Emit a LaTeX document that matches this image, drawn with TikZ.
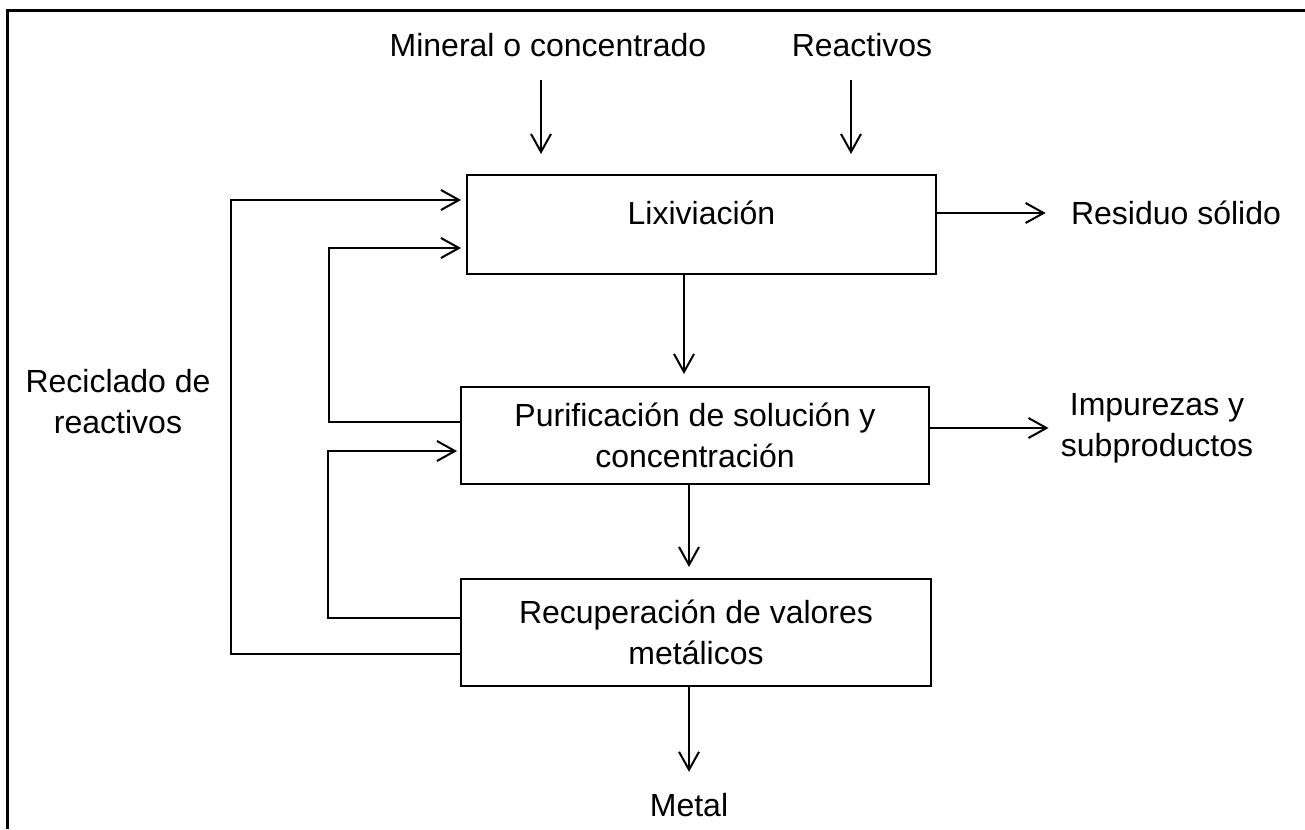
\documentclass[tikz,border=0pt]{standalone}
\usepackage{fontspec}
\setmainfont{Liberation Sans}
\usetikzlibrary{arrows.meta}

\begin{document}
\begin{tikzpicture}[x=0.5pt,y=-0.5pt,
    every node/.style={font=\fontsize{16}{20.5}\selectfont,align=center,inner sep=0pt},
    block/.style={draw,line width=1pt},
    flow/.style={line width=1pt,-{Straight Barb[length=9pt,width=10pt]}},
    link/.style={line width=1pt}]

      \useasboundingbox (0,0) rectangle (1305,829);
      \draw[line width=1.5pt] (7,829) -- (7,11) -- (1305,11);

      \begin{scope}[every node/.append style={block}]
        \node[minimum width=234.5pt,minimum height=49.5pt,text height=6pt,text depth=6pt]
          (lix) at (701.5,224.5) {Lixiviación};
        \node[minimum width=234pt,minimum height=48.5pt]
          (pur) at (695,435.5) {Purificación de solución y\\concentración};
        \node[minimum width=235pt,minimum height=53.5pt]
          (rec) at (696,632.5) {Recuperación de valores\\metálicos};
      \end{scope}

      \node (min) at (548,45) {Mineral o concentrado};
      \node (rea) at (862,45) {Reactivos};
      \node (res) at (1176,213) {Residuo sólido};
      \node (imp) at (1157,428) {Impurezas y\\subproductos};
      \node (recic) at (118,402) {Reciclado de\\reactivos};
      \node (met) at (689,805) {Metal};

      \coordinate (minin) at (541,80);
      \coordinate (reain) at (851,80);
      \coordinate (lixout) at ([xshift=-8.75pt]lix.south);
      \coordinate (purout) at ([xshift=-3pt]pur.south);
      \coordinate (recout) at ([xshift=-3.5pt]rec.south);

      \draw[flow,shorten >=10pt] (minin) -- (minin |- lix.north);
      \draw[flow,shorten >=10pt] (reain) -- (reain |- lix.north);
      \draw[flow,shorten >=6pt] (lixout) -- (lixout |- pur.north);
      \draw[flow,shorten >=5.5pt] (purout) -- (purout |- rec.north);
      \draw[flow,shorten >=10.5pt] (recout) -- (recout |- met.north);

      \draw[flow,shorten >=12.5pt] (lix.east |- res) -- (res.west);
      \draw[flow,shorten >=6pt] (pur.east |- imp) -- (imp.west);

      \draw[flow,shorten >=2.5pt] ([yshift=-10.75pt]rec.west) -- ++(-229,0) |- ([yshift=12.25pt]lix.west);
      \draw[flow,shorten >=2.5pt] ([yshift=6.75pt]pur.west) -- ++(-131,0) |- ([yshift=-11.75pt]lix.west);
      \draw[flow,shorten >=1.5pt] ([yshift=7.25pt]rec.west) -- ++(-132,0) |- ([yshift=-7.75pt]pur.west);

    \end{tikzpicture}
\end{document}
